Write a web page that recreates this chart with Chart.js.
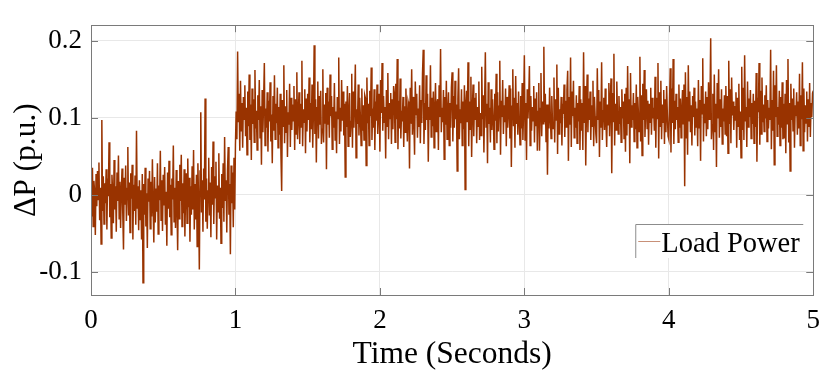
<!DOCTYPE html>
<html>
<head>
<meta charset="utf-8">
<script src="https://cdn.jsdelivr.net/npm/chart.js@4/dist/chart.umd.min.js"></script>
<style>
  html, body { margin: 0; padding: 0; background: #fff; }
  #wrap { width: 830px; height: 380px; }
</style>
</head>
<body>
<div id="wrap"><canvas id="myChart" width="830" height="380"></canvas></div>
<script>
// sample step of the recorded signal (seconds)
var dt = 0.005
var seriesLabel = 'Load Power'
var xTicks = [0, 1, 2, 3, 4, 5]
var yTicks = [-0.1, 0, 0.1, 0.2]
// load power deviation (p.u.), one value every dt (one row = 0.1 s)
var loadPower = [
  0.012, -0.028, 0.035, -0.041, 0.018, 0.004, -0.052, 0.027, -0.015, 0.031, -0.006, 0.042, -0.033, 0.009, -0.064, 0.097, -0.021, 0.024, -0.038, 0.015,
  -0.011, 0.033, -0.045, 0.021, -0.002, 0.068, -0.029, 0.014, -0.056, 0.026, 0.003, -0.037, 0.045, -0.019, 0.011, -0.048, 0.029, -0.008, 0.051, -0.031,
  0.017, -0.043, 0.006, 0.034, -0.024, -0.071, 0.022, -0.013, 0.038, -0.034, 0.008, 0.062, -0.027, 0.016, -0.049, 0.028, -0.005, 0.039, -0.058, 0.013,
  -0.021, 0.025, -0.039, 0.083, -0.017, 0.011, -0.046, 0.019, -0.032, 0.006, -0.058, 0.027, -0.114, 0.014, -0.026, 0.035, -0.041, 0.002, -0.069, 0.021,
  -0.009, 0.031, -0.044, 0.017, -0.028, 0.046, -0.015, -0.062, 0.023, -0.036, 0.008, -0.022, 0.041, -0.051, 0.012, -0.007, 0.057, -0.033, 0.019, -0.047,
  0.026, -0.014, 0.036, -0.039, 0.004, -0.066, 0.029, -0.018, 0.044, -0.029, 0.013, -0.052, 0.021, -0.006, 0.064, -0.035, 0.009, -0.043, 0.032, -0.012,
  -0.072, 0.018, -0.031, 0.039, -0.008, 0.052, -0.041, 0.015, -0.024, 0.033, -0.054, 0.007, 0.028, -0.037, 0.047, -0.016, 0.022, -0.061, 0.011, -0.026,
  0.037, -0.019, 0.058, -0.045, 0.014, -0.032, 0.026, -0.067, 0.041, -0.011, -0.097, 0.031, 0.107, -0.023, 0.019, -0.048, 0.034, -0.006, 0.125, -0.035,
  0.021, -0.044, 0.005, 0.048, -0.027, 0.016, -0.055, 0.036, -0.013, 0.069, -0.038, 0.024, -0.004, 0.043, -0.058, 0.012, -0.022, 0.054, -0.031, 0.009,
  -0.063, 0.027, -0.017, 0.041, -0.035, 0.075, -0.008, 0.019, -0.049, 0.032, 0.062, -0.026, 0.014, -0.077, 0.038, -0.011, 0.029, -0.042, 0.048, -0.019,
  0.065, 0.108, 0.072, 0.186, 0.094, 0.131, 0.057, 0.148, 0.083, 0.119, 0.061, 0.127, 0.098, 0.142, 0.076, 0.113, 0.052, 0.134, 0.089, 0.156,
  0.071, 0.117, 0.045, 0.138, 0.092, 0.124, 0.068, 0.162, 0.086, 0.109, 0.058, 0.129, 0.097, 0.149, 0.074, 0.115, 0.039, 0.136, 0.081, 0.121,
  0.171, 0.064, 0.112, 0.087, 0.133, 0.056, 0.122, 0.095, 0.146, 0.069, 0.104, 0.041, 0.128, 0.083, 0.155, 0.072, 0.118, 0.093, 0.139, 0.061,
  0.114, 0.078, 0.131, 0.052, 0.005, 0.123, 0.089, 0.168, 0.067, 0.115, 0.081, 0.136, 0.049, 0.107, 0.091, 0.144, 0.062, 0.126, 0.084, 0.117,
  0.096, 0.141, 0.058, 0.124, 0.079, 0.159, 0.072, 0.104, 0.133, 0.066, 0.118, 0.088, 0.174, 0.063, 0.111, 0.094, 0.137, 0.054, 0.125, 0.082,
  0.131, 0.097, 0.152, 0.068, 0.119, 0.085, 0.143, 0.061, 0.109, 0.194, 0.079, 0.124, 0.042, 0.113, 0.147, 0.073, 0.128, 0.091, 0.135, 0.066,
  0.085, 0.163, 0.068, 0.117, 0.093, 0.132, 0.033, 0.139, 0.091, 0.121, 0.074, 0.156, 0.102, 0.128, 0.059, 0.114, 0.087, 0.145, 0.071, 0.108,
  0.054, 0.127, 0.099, 0.178, 0.066, 0.113, 0.082, 0.149, 0.096, 0.134, 0.077, 0.118, 0.023, 0.121, 0.088, 0.141, 0.063, 0.106, 0.132, 0.075,
  0.095, 0.157, 0.061, 0.134, 0.087, 0.119, 0.169, 0.048, 0.111, 0.092, 0.143, 0.077, 0.126, 0.101, 0.064, 0.138, 0.083, 0.116, 0.071, 0.129,
  0.125, 0.038, 0.152, 0.093, 0.118, 0.064, 0.135, 0.102, 0.165, 0.071, 0.112, 0.087, 0.137, 0.058, 0.121, 0.096, 0.143, 0.079, 0.108, 0.131,
  0.056, 0.149, 0.106, 0.171, 0.083, 0.128, 0.094, 0.114, 0.047, 0.136, 0.089, 0.158, 0.072, 0.119, 0.099, 0.132, 0.066, 0.124, 0.085, 0.141,
  0.132, 0.068, 0.144, 0.098, 0.176, 0.059, 0.122, 0.086, 0.151, 0.073, 0.109, 0.095, 0.127, 0.062, 0.115, 0.081, 0.138, 0.104, 0.069, 0.121,
  0.116, 0.034, 0.139, 0.092, 0.163, 0.078, 0.127, 0.096, 0.052, 0.147, 0.104, 0.131, 0.074, 0.112, 0.088, 0.142, 0.067, 0.123, 0.093, 0.157,
  0.188, 0.066, 0.119, 0.084, 0.155, 0.097, 0.131, 0.043, 0.114, 0.097, 0.168, 0.075, 0.126, 0.089, 0.134, 0.061, 0.109, 0.145, 0.082, 0.118,
  0.124, 0.058, 0.142, 0.101, 0.189, 0.081, 0.113, 0.094, 0.136, 0.046, 0.127, 0.091, 0.148, 0.072, 0.105, 0.133, 0.064, 0.119, 0.087, 0.139,
  0.159, 0.069, 0.128, 0.087, 0.148, 0.098, 0.117, 0.031, 0.124, 0.164, 0.072, 0.111, 0.093, 0.137, 0.064, 0.121, 0.085, 0.142, 0.007, 0.118,
  0.135, 0.094, 0.172, 0.063, 0.121, 0.085, 0.153, 0.049, 0.109, 0.143, 0.076, 0.126, 0.098, 0.132, 0.067, 0.114, 0.089, 0.147, 0.071, 0.106,
  0.077, 0.166, 0.098, 0.129, 0.055, 0.119, 0.185, 0.088, 0.118, 0.041, 0.146, 0.092, 0.113, 0.068, 0.137, 0.084, 0.124, 0.101, 0.059, 0.131,
  0.096, 0.157, 0.067, 0.133, 0.082, 0.115, 0.174, 0.052, 0.122, 0.101, 0.149, 0.079, 0.116, 0.094, 0.138, 0.063, 0.127, 0.087, 0.109, 0.142,
  0.073, 0.138, 0.036, 0.115, 0.163, 0.089, 0.126, 0.061, 0.154, 0.092, 0.119, 0.078, 0.134, 0.099, 0.065, 0.128, 0.086, 0.145, 0.071, 0.112,
  0.181, 0.071, 0.119, 0.045, 0.137, 0.099, 0.123, 0.167, 0.064, 0.128, 0.083, 0.114, 0.096, 0.141, 0.068, 0.125, 0.089, 0.133, 0.057, 0.108,
  0.145, 0.057, 0.112, 0.158, 0.076, 0.121, 0.092, 0.192, 0.094, 0.131, 0.069, 0.117, 0.026, 0.117, 0.086, 0.139, 0.101, 0.073, 0.128, 0.091,
  0.086, 0.152, 0.068, 0.124, 0.097, 0.169, 0.053, 0.139, 0.079, 0.111, 0.093, 0.127, 0.064, 0.118, 0.105, 0.143, 0.075, 0.122, 0.088, 0.136,
  0.161, 0.044, 0.127, 0.091, 0.178, 0.062, 0.134, 0.102, 0.148, 0.074, 0.113, 0.087, 0.129, 0.067, 0.119, 0.095, 0.141, 0.058, 0.124, 0.083,
  0.119, 0.058, 0.185, 0.093, 0.141, 0.038, 0.113, 0.156, 0.081, 0.125, 0.097, 0.134, 0.071, 0.116, 0.089, 0.148, 0.063, 0.127, 0.102, 0.079,
  0.067, 0.164, 0.098, 0.136, 0.049, 0.121, 0.087, 0.172, 0.071, 0.109, 0.126, 0.084, 0.138, 0.095, 0.062, 0.117, 0.091, 0.145, 0.076, 0.123,
  0.151, 0.028, 0.132, 0.095, 0.183, 0.064, 0.118, 0.084, 0.147, 0.103, 0.079, 0.128, 0.092, 0.114, 0.068, 0.137, 0.099, 0.121, 0.073, 0.131,
  0.056, 0.139, 0.077, 0.167, 0.092, 0.124, 0.041, 0.158, 0.088, 0.116, 0.097, 0.132, 0.069, 0.119, 0.085, 0.143, 0.061, 0.127, 0.104, 0.082,
  0.179, 0.069, 0.129, 0.051, 0.144, 0.097, 0.162, 0.075, 0.111, 0.137, 0.086, 0.122, 0.065, 0.118, 0.094, 0.139, 0.078, 0.126, 0.099, 0.113,
  0.083, 0.153, 0.061, 0.126, 0.099, 0.171, 0.047, 0.133, 0.089, 0.148, 0.072, 0.117, 0.094, 0.136, 0.066, 0.124, 0.081, 0.141, 0.103, 0.076,
  0.072, 0.119, 0.164, 0.055, 0.138, 0.093, 0.176, 0.066, 0.122, 0.085, 0.131, 0.097, 0.114, 0.068, 0.143, 0.087, 0.125, 0.074, 0.109, 0.136,
  0.092, 0.143, 0.011, 0.159, 0.074, 0.127, 0.052, 0.168, 0.096, 0.134, 0.081, 0.116, 0.064, 0.128, 0.101, 0.139, 0.077, 0.121, 0.088, 0.112,
  0.063, 0.149, 0.087, 0.123, 0.044, 0.141, 0.105, 0.177, 0.069, 0.118, 0.093, 0.134, 0.076, 0.127, 0.085, 0.146, 0.098, 0.116, 0.203, 0.072,
  0.091, 0.131, 0.058, 0.156, 0.082, 0.118, 0.036, 0.145, 0.099, 0.163, 0.074, 0.124, 0.088, 0.137, 0.066, 0.112, 0.095, 0.129, 0.079, 0.141,
  0.076, 0.128, 0.054, 0.174, 0.092, 0.137, 0.067, 0.152, 0.103, 0.121, 0.084, 0.115, 0.097, 0.133, 0.061, 0.126, 0.089, 0.144, 0.071, 0.108,
  0.048, 0.166, 0.084, 0.139, 0.071, 0.181, 0.095, 0.114, 0.062, 0.147, 0.088, 0.125, 0.101, 0.136, 0.073, 0.119, 0.092, 0.131, 0.067, 0.122,
  0.088, 0.158, 0.043, 0.126, 0.107, 0.171, 0.065, 0.135, 0.079, 0.152, 0.094, 0.117, 0.082, 0.129, 0.099, 0.142, 0.069, 0.123, 0.086, 0.113,
  0.097, 0.188, 0.059, 0.123, 0.083, 0.161, 0.039, 0.142, 0.101, 0.168, 0.076, 0.114, 0.091, 0.135, 0.064, 0.127, 0.087, 0.146, 0.072, 0.118,
  0.073, 0.131, 0.054, 0.149, 0.092, 0.176, 0.068, 0.119, 0.031, 0.144, 0.097, 0.125, 0.083, 0.138, 0.061, 0.116, 0.102, 0.133, 0.078, 0.121,
  0.086, 0.157, 0.064, 0.129, 0.098, 0.172, 0.057, 0.138, 0.081, 0.116, 0.093, 0.134, 0.069, 0.124, 0.088, 0.145, 0.075, 0.119, 0.101, 0.132,
  0.135
]

var serif = "'Liberation Serif', 'Times New Roman', serif"
var points = loadPower.map((v, i) => ({x: i * dt, y: v}))

// MATLAB style box with inward ticks, plus the legend box
var frame = {
  id: 'frame',
  afterDatasetsDraw(chart) {
    var ctx = chart.ctx, a = chart.chartArea
    var xs = chart.scales.x, ys = chart.scales.y
    ctx.save()
    ctx.strokeStyle = '#7a7a7a'
    ctx.lineWidth = 1
    ctx.strokeRect(Math.round(a.left) + 0.5, Math.round(a.top) + 0.5,
      Math.round(a.right - a.left), Math.round(a.bottom - a.top))
    ctx.beginPath()
    xTicks.forEach(t => {
      var px = Math.round(xs.getPixelForValue(t)) + 0.5
      ctx.moveTo(px, a.bottom); ctx.lineTo(px, a.bottom - 7)
      ctx.moveTo(px, a.top); ctx.lineTo(px, a.top + 7)
    })
    yTicks.forEach(t => {
      var py = Math.round(ys.getPixelForValue(t)) + 0.5
      ctx.moveTo(a.left, py); ctx.lineTo(a.left + 7, py)
      ctx.moveTo(a.right, py); ctx.lineTo(a.right - 7, py)
    })
    ctx.stroke()

    var lx = a.right - 178, ly = a.bottom - 71
    ctx.fillStyle = '#fff'
    ctx.fillRect(lx, ly, 168, 34)
    ctx.strokeStyle = '#8c8c8c'
    ctx.beginPath()
    ctx.moveTo(lx + 0.5, ly + 34); ctx.lineTo(lx + 0.5, ly + 0.5); ctx.lineTo(lx + 168, ly + 0.5)
    ctx.stroke()
    ctx.strokeStyle = '#c89078'
    ctx.beginPath()
    ctx.moveTo(lx + 3, ly + 17.5); ctx.lineTo(lx + 25, ly + 17.5)
    ctx.stroke()
    ctx.fillStyle = '#000'
    ctx.font = '28.5px ' + serif
    ctx.textBaseline = 'alphabetic'
    ctx.fillText(seriesLabel, lx + 26, ly + 28)
    ctx.restore()
  }
}

var ctx = document.getElementById('myChart').getContext('2d')
var myChart = new Chart(ctx, {
  type: 'line',
  data: {
    datasets: [{
      label: seriesLabel,
      data: points,
      borderColor: 'rgb(153,51,0)',
      borderWidth: 1.5,
      pointRadius: 0,
      tension: 0
    }]
  },
  options: {
    responsive: false,
    animation: false,
    parsing: false,
    layout: {padding: {top: 19, right: 14, left: 0, bottom: 0}},
    plugins: {legend: {display: false}, tooltip: {enabled: false}},
    scales: {
      x: {
        type: 'linear', min: 0, max: 5,
        afterBuildTicks: s => { s.ticks = xTicks.map(v => ({value: v})) },
        afterFit: s => { s.height = 85 },
        grid: {color: '#e8e8e8', drawTicks: false},
        border: {display: false},
        ticks: {color: '#000', padding: 10, font: {family: serif, size: 27}},
        title: {display: true, text: 'Time (Seconds)', color: '#000',
          font: {family: serif, size: 31.5}, padding: {top: 0, bottom: 6}}
      },
      y: {
        min: -0.13, max: 0.22,
        afterBuildTicks: s => { s.ticks = yTicks.map(v => ({value: v})) },
        afterFit: s => { s.width = 91 },
        grid: {color: '#e8e8e8', drawTicks: false},
        border: {display: false},
        ticks: {color: '#000', padding: 9, font: {family: serif, size: 27},
          callback: v => String(Math.round(v * 10) / 10)},
        title: {display: true, text: 'ΔP (p.u.)', color: '#000',
          font: {family: serif, size: 31.5}, padding: {top: 8, bottom: 0}}
      }
    }
  },
  plugins: [frame]
})
</script>
</body>
</html>
